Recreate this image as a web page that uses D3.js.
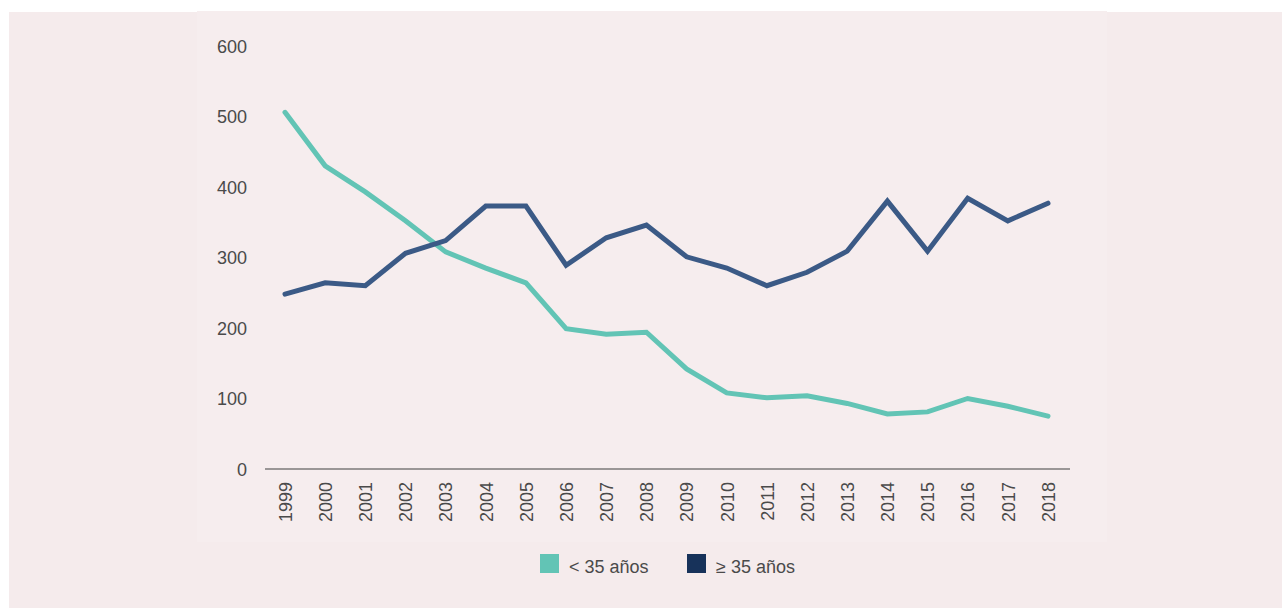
<!DOCTYPE html>
<html>
<head>
<meta charset="utf-8">
<script src="https://cdn.jsdelivr.net/npm/d3@7"></script>
<style>
  html, body { margin: 0; padding: 0; background: #ffffff; }
  svg { display: block; }
  text { font-family: "Liberation Sans", Arial, Helvetica, sans-serif; }
</style>
</head>
<body>
<svg id="chart" width="1282" height="610"></svg>
<script>
const years = ["1999","2000","2001","2002","2003","2004","2005","2006","2007","2008","2009","2010","2011","2012","2013","2014","2015","2016","2017","2018"];
const under35 = [506, 430, 393, 352, 308, 285, 264, 199, 191, 194, 142, 108, 101, 104, 93, 78, 81, 100, 89, 75];
const over35 = [248, 264, 260, 306, 324, 373, 373, 289, 328, 346, 301, 285, 260, 279, 309, 380, 309, 384, 352, 377];
const yTicks = [0, 100, 200, 300, 400, 500, 600];
const seriesNames = ["< 35 años", "\u2265 35 años"];
const lineColors = ["#62c4b5", "#3b5a86"];
const legendColors = ["#62c4b5", "#17325a"];

const svg = d3.select("#chart");

// backgrounds
svg.append("rect").attr("x", 9).attr("y", 12).attr("width", 1273).attr("height", 596).attr("fill", "#f5ebec");
svg.append("rect").attr("x", 197).attr("y", 11).attr("width", 910).attr("height", 531).attr("fill", "#f6edee");

const x = d3.scalePoint().domain(years).range([285, 1048]);
const y = d3.scaleLinear().domain([0, 600]).range([469, 46]);

// y axis labels
const yAxis = d3.axisLeft(y).tickValues(yTicks).tickSize(0).tickPadding(0);
const gy = svg.append("g").attr("transform", "translate(247,0)").call(yAxis);
gy.select(".domain").remove();
gy.selectAll("text").attr("font-size", 18).attr("fill", "#4a4a4a").attr("dy", "0.35em");

// x axis
const xAxis = d3.axisBottom(x).tickSize(0);
const gx = svg.append("g").attr("transform", "translate(0,469)").call(xAxis);
gx.select(".domain").remove();
gx.selectAll("text")
  .attr("font-size", 18).attr("fill", "#4a4a4a")
  .attr("transform", "rotate(-90)")
  .attr("text-anchor", "end")
  .attr("x", -13).attr("y", 0).attr("dy", "0.35em");

svg.append("line").attr("x1", 265).attr("x2", 1070).attr("y1", y(0)).attr("y2", y(0))
  .attr("stroke", "#9a9696").attr("stroke-width", 2);

// lines
const line = d3.line().x((d, i) => x(years[i])).y(d => y(d));
[under35, over35].forEach((s, k) => {
  svg.append("path").datum(s)
    .attr("d", line)
    .attr("fill", "none")
    .attr("stroke", lineColors[k])
    .attr("stroke-width", 5)
    .attr("stroke-linejoin", "miter")
    .attr("stroke-linecap", "round");
});

// legend
const legendX = [540, 687];
seriesNames.forEach((name, k) => {
  svg.append("rect").attr("x", legendX[k]).attr("y", 554).attr("width", 19).attr("height", 19).attr("fill", legendColors[k]);
  svg.append("text").attr("x", legendX[k] + 29).attr("y", 573)
    .attr("font-size", 18).attr("fill", "#4a4a4a").text(name);
});
</script>
</body>
</html>
